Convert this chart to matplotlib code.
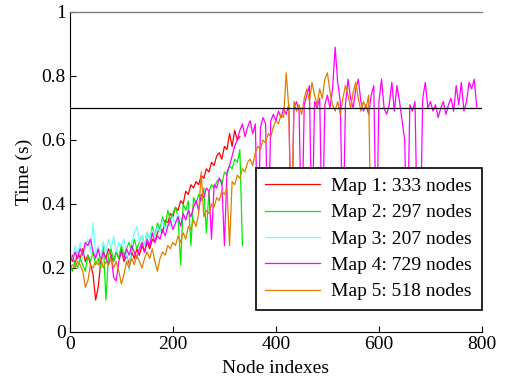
import numpy as np
import matplotlib
matplotlib.use("Agg")
import matplotlib.pyplot as plt

plt.rcParams['font.family'] = ['Liberation Serif', 'DejaVu Serif']

step = 5  # node spacing between read-off samples

map1 = [0.22, 0.24, 0.21, 0.25, 0.23, 0.26, 0.22, 0.24, 0.21, 0.18, 0.10, 0.14, 0.22, 0.25,
        0.23, 0.26, 0.24, 0.22, 0.25, 0.23, 0.26, 0.22, 0.24, 0.21, 0.25, 0.23, 0.26, 0.24,
        0.27, 0.25, 0.28, 0.26, 0.29, 0.28, 0.31, 0.33, 0.31, 0.35, 0.34, 0.37, 0.36, 0.39,
        0.38, 0.41, 0.40, 0.44, 0.43, 0.46, 0.45, 0.47, 0.46, 0.49, 0.48, 0.51, 0.50, 0.53,
        0.52, 0.55, 0.56, 0.54, 0.58, 0.57, 0.62, 0.58, 0.63, 0.60, 0.61]

map2 = [0.21, 0.19, 0.22, 0.20, 0.23, 0.21, 0.19, 0.24, 0.22, 0.25, 0.21, 0.23, 0.20, 0.28,
        0.10, 0.24, 0.26, 0.22, 0.25, 0.23, 0.27, 0.24, 0.26, 0.28, 0.25, 0.29, 0.26, 0.28,
        0.30, 0.27, 0.31, 0.29, 0.33, 0.30, 0.34, 0.32, 0.36, 0.33, 0.38, 0.35, 0.37, 0.39,
        0.36, 0.21, 0.40, 0.38, 0.41, 0.27, 0.42, 0.40, 0.43, 0.41, 0.45, 0.31, 0.44, 0.46,
        0.45, 0.47, 0.48, 0.46, 0.50, 0.49, 0.52, 0.51, 0.54, 0.53, 0.57, 0.27]

map3 = [0.25, 0.22, 0.27, 0.24, 0.28, 0.23, 0.26, 0.29, 0.25, 0.34, 0.24, 0.27, 0.23, 0.28,
        0.25, 0.29, 0.26, 0.30, 0.25, 0.28, 0.27, 0.29, 0.24, 0.19, 0.28, 0.31, 0.33, 0.28,
        0.30, 0.27, 0.31, 0.29, 0.32, 0.30, 0.33, 0.31, 0.35, 0.32, 0.34, 0.33, 0.36, 0.34,
        0.37, 0.35, 0.36]

map4 = [0.24, 0.22, 0.25, 0.23, 0.26, 0.24, 0.28, 0.27, 0.29, 0.25, 0.23, 0.26, 0.22, 0.25,
        0.23, 0.21, 0.24, 0.17, 0.16, 0.22, 0.25, 0.23, 0.26, 0.24, 0.27, 0.25, 0.23, 0.26,
        0.28, 0.25, 0.29, 0.27, 0.31, 0.28, 0.30, 0.29, 0.32, 0.30, 0.33, 0.35, 0.32, 0.34,
        0.36, 0.33, 0.37, 0.35, 0.38, 0.36, 0.39, 0.41, 0.38, 0.43, 0.42, 0.45, 0.44, 0.29,
        0.46, 0.45, 0.48, 0.47, 0.27, 0.50, 0.52, 0.55, 0.58, 0.60, 0.63, 0.65, 0.61, 0.64,
        0.66, 0.62, 0.65, 0.28, 0.64, 0.67, 0.65, 0.27, 0.66, 0.68, 0.66, 0.69, 0.67, 0.70,
        0.68, 0.71, 0.27, 0.70, 0.72, 0.69, 0.27, 0.71, 0.74, 0.77, 0.27, 0.72, 0.70, 0.73,
        0.27, 0.71, 0.74, 0.70, 0.76, 0.89, 0.78, 0.72, 0.27, 0.71, 0.79, 0.73, 0.70, 0.76,
        0.79, 0.72, 0.69, 0.71, 0.68, 0.74, 0.77, 0.27, 0.72, 0.79, 0.70, 0.68, 0.71, 0.78,
        0.69, 0.77, 0.72, 0.66, 0.60, 0.27, 0.71, 0.69, 0.72, 0.27, 0.27, 0.73, 0.78, 0.70,
        0.72, 0.69, 0.71, 0.67, 0.70, 0.72, 0.68, 0.71, 0.73, 0.69, 0.77, 0.71, 0.78, 0.69,
        0.72, 0.78, 0.76, 0.79, 0.70]

map5 = [0.20, 0.21, 0.20, 0.22, 0.21, 0.19, 0.14, 0.16, 0.21, 0.20, 0.22, 0.21, 0.23, 0.20,
        0.22, 0.21, 0.23, 0.20, 0.22, 0.19, 0.15, 0.18, 0.22, 0.20, 0.23, 0.21, 0.24, 0.22,
        0.20, 0.23, 0.25, 0.23, 0.26, 0.22, 0.19, 0.23, 0.25, 0.24, 0.27, 0.26, 0.28, 0.27,
        0.30, 0.28, 0.31, 0.29, 0.33, 0.32, 0.35, 0.33, 0.37, 0.50, 0.36, 0.38, 0.37, 0.40,
        0.39, 0.42, 0.41, 0.44, 0.43, 0.45, 0.27, 0.47, 0.46, 0.49, 0.48, 0.51, 0.50, 0.53,
        0.54, 0.52, 0.56, 0.58, 0.57, 0.60, 0.59, 0.62, 0.61, 0.64, 0.66, 0.65, 0.68, 0.67,
        0.81, 0.70, 0.27, 0.72, 0.69, 0.71, 0.68, 0.73, 0.76, 0.72, 0.78, 0.74, 0.71, 0.76,
        0.73, 0.79, 0.81, 0.75, 0.71, 0.69, 0.72, 0.68, 0.73, 0.77, 0.74, 0.70, 0.75, 0.78,
        0.73, 0.69, 0.72, 0.70, 0.74, 0.27]

series = [map1, map2, map3, map4, map5]
labels = ['Map 1: 333 nodes', 'Map 2: 297 nodes', 'Map 3: 207 nodes',
          'Map 4: 729 nodes', 'Map 5: 518 nodes']
colors = ['#ff0000', '#00ee00', '#70ffff', '#ff00ff', '#de7f00']

fig = plt.figure(figsize=(5.1, 3.86), dpi=100)
ax = fig.add_axes([0.137, 0.140, 0.808, 0.829])

for vals, lab, c in zip(series, labels, colors):
    x = np.arange(len(vals)) * step
    ax.plot(x, vals, color=c, lw=0.9, label=lab)

ax.axhline(0.7, color='k', lw=0.9, zorder=3)

ax.set_xlim(0, 800)
ax.set_ylim(0, 1)
ax.set_xticks([0, 200, 400, 600, 800])
ax.set_yticks([0, 0.2, 0.4, 0.6, 0.8, 1])
ax.set_yticklabels(['0', '0.2', '0.4', '0.6', '0.8', '1'])
ax.tick_params(direction='in', length=4, labelsize=14, width=0.8, pad=3)
ax.spines['right'].set_visible(False)
ax.spines['top'].set_color('0.45')
ax.spines['top'].set_linewidth(0.9)
ax.set_xlabel('Node indexes', fontsize=14, labelpad=5)
ax.set_ylabel('Time (s)', fontsize=14, labelpad=6)

leg = ax.legend(loc='lower right', bbox_to_anchor=(1.0, 0.068), borderaxespad=0,
                fontsize=14, fancybox=False, framealpha=1, edgecolor='k',
                handlelength=2.8, labelspacing=0.45, handletextpad=0.6,
                borderpad=0.5)
leg.get_frame().set_linewidth(1.2)
leg.set_zorder(5)

fig.savefig('out.png', dpi=100)
